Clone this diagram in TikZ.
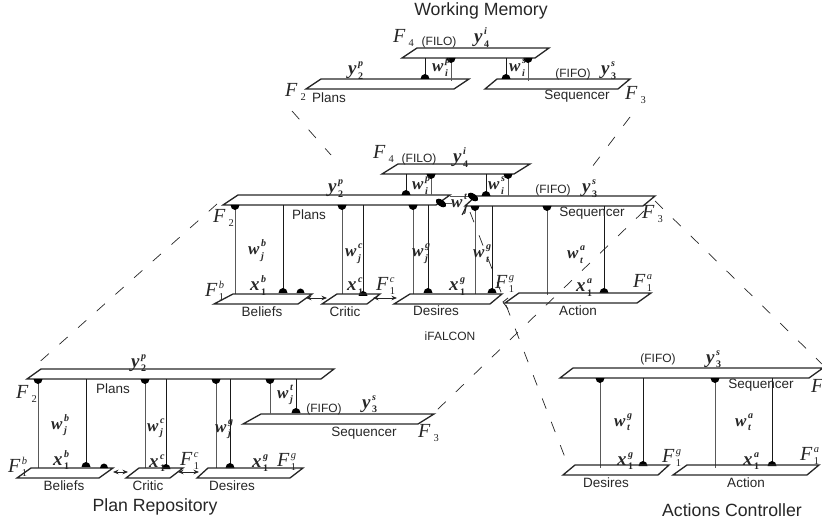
\documentclass[tikz,border=0pt]{standalone}
\usepackage{fontspec}
\setmainfont{Liberation Sans}
\newfontfamily\serifbi{Liberation Serif}
\usetikzlibrary{arrows.meta}
\newcommand{\bigF}[3]{{\fontsize{20}{20}\selectfont\serifbi\itshape #1}\hspace{1.5pt}\rlap{\raisebox{8pt}{\fontsize{10.5}{10.5}\selectfont\serifbi\itshape #2}}\raisebox{-4pt}{\fontsize{10.5}{10.5}\selectfont\serifbi #3}}
\newcommand{\bfv}[3]{{\fontsize{17}{17}\selectfont\serifbi\bfseries\itshape #1}\hspace{1.5pt}\rlap{\raisebox{8pt}{\fontsize{10}{10}\selectfont\serifbi\bfseries\itshape #2}}\raisebox{-4.5pt}{\fontsize{10}{10}\selectfont\serifbi\bfseries\itshape #3}}
\newcommand{\bfn}[3]{{\fontsize{19}{19}\selectfont\serifbi\bfseries\itshape #1}\hspace{1.5pt}\rlap{\raisebox{8pt}{\fontsize{10}{10}\selectfont\serifbi\bfseries\itshape #2}}\raisebox{-4.5pt}{\fontsize{10}{10}\selectfont\serifbi\bfseries #3}}
% plane: top-left x, top-right x, top y, bottom-left x, bottom-right x, bottom y
\newcommand{\plane}[6]{\draw[planeline] (#1,#3) -- (#2,#3) -- (#5,#6) -- (#4,#6) -- cycle;}
\newcommand{\topdome}[3]{\draw[grayline] (#1,#2) -- (#1,#3); \fill (#1-4.5,#2) arc[start angle=180,end angle=360,x radius=4.5,y radius=-5] -- cycle;}
\newcommand{\botdome}[3]{\draw[blackline] (#1,#2) -- (#1,#3); \fill (#1-4.5,#3) arc[start angle=180,end angle=0,x radius=4.5,y radius=-5] -- cycle;}
\tikzset{
  planeline/.style={line width=1.3pt,line join=miter,black!85},
  grayline/.style={line width=1pt,black!65},
  blackline/.style={line width=1pt,black!90},
  dashline/.style={line width=0.7pt,black!85,dash pattern=on 11pt off 14pt},
  txt/.style={font=\fontsize{13.5}{13.5}\selectfont,inner sep=0pt,text=black!85},
  fifo/.style={font=\fontsize{12}{12}\selectfont,inner sep=0pt,text=black!85},
  head/.style={font=\fontsize{17.7}{17.7}\selectfont,inner sep=0pt,text=black!85},
  sym/.style={inner sep=0pt,text=black!85,anchor=base west},
  duplex/.style={line width=0.8pt,black!85,{Stealth[length=5.5pt,width=4.5pt]}-{Stealth[length=5.5pt,width=4.5pt]}}
}
\begin{document}
\begin{tikzpicture}[x=1pt,y=-1pt]
\useasboundingbox (0,0) rectangle (822,521);
% ---------- dashed guides
\draw[dashline] (292,111) -- (331,155);
\draw[dashline] (630,117) -- (592,167);
\draw[dashline] (217,204) -- (35,366);
\draw[dashline] (644,211) -- (437,410);
\draw[dashline] (655,201) -- (822,364);
\draw[dashline] (470,212) -- (566,460);
% ---------- Working Memory
\node[head] (wmtitle) at (481,11) {Working Memory};
\plane{417}{549}{48}{402}{535}{58}
\plane{321}{469}{79}{306}{454}{89}
\plane{497}{630}{79}{485}{618}{89}
\botdome{425}{58}{79}
\topdome{451}{58}{81}
\botdome{506}{58}{79}
\topdome{528}{58}{81}
\node[sym] (wmf4) at (393,43) {\bigF{F}{}{\,4}};
\node[fifo] (wmfilo) at (439,42) {(FILO)};
\node[sym] (wmy4) at (474,43) {\bfn{y}{i}{4}};
\node[sym] (wmf2) at (285,97) {\bigF{F}{}{\,2}};
\node[sym] (wmy2) at (348,75) {\bfn{y}{p}{2}};
\node[txt] (wmplans) at (329,98) {Plans};
\node[sym] (wmwip) at (432,72) {\bfv{w}{p}{i}};
\node[sym] (wmwis) at (509,72) {\bfv{w}{s}{i}};
\node[fifo] (wmfifo) at (573,74) {(FIFO)};
\node[sym] (wmy3) at (601,75) {\bfn{y}{s}{3}};
\node[txt] (wmseq) at (577,96) {Sequencer};
\node[sym] (wmf3) at (625,100) {\bigF{F}{}{\,3}};
% ---------- iFALCON
\plane{398}{530}{164}{382}{514}{174}
\plane{238}{450}{195}{223}{436}{205}
\plane{476}{655}{196}{465}{643}{206}
\botdome{406}{174}{195}
\topdome{431}{174}{195}
\botdome{486}{174}{196}
\topdome{508}{174}{196}
\topdome{235}{205}{294}
\botdome{283}{205}{293}
\topdome{342}{205}{294}
\botdome{363}{205}{296}
\topdome{413}{205}{294}
\botdome{428}{205}{293}
\topdome{475}{206}{294}
\botdome{492}{206}{293}
\topdome{547}{206}{295}
\botdome{604}{206}{293}
% slanted synapses between Plans and Sequencer
\draw[grayline] (450,197) -- (470,197);
\draw[grayline] (445,204) -- (452,204);
\fill[rotate around={-35:(441,203)}] (441,203) ellipse[x radius=6,y radius=3.2];
\fill[rotate around={-35:(473,197)}] (473,197) ellipse[x radius=6,y radius=3.2];
\draw[blackline] (467,205) -- (462,215);
% lower planes
\plane{233}{312}{294}{214}{298}{304}
\fill (296.5,293) arc[start angle=180,end angle=0,x radius=4,y radius=-4.5] -- cycle;
\plane{337}{380}{294}{322}{367}{304}
\plane{410}{502}{294}{394}{490}{304}
\plane{519}{651}{293}{505}{637}{303}
\draw[line width=0.8pt,black!85] (508,298) -- (503,302) -- (508,309);
\draw[duplex] (306,298) -- (327,298);
\draw[duplex] (373,298) -- (397,298);
\node[sym] (mf4) at (373,159) {\bigF{F}{}{\,4}};
\node[fifo] (mfilo) at (419,159) {(FILO)};
\node[sym] (my4) at (453,163) {\bfn{y}{i}{4}};
\node[sym] (my2) at (328,193) {\bfn{y}{p}{2}};
\node[txt] (mplans) at (309,215) {Plans};
\node[sym] (mf2) at (213,223) {\bigF{F}{}{\,2}};
\node[sym] (mwip) at (412,190) {\bfv{w}{p}{i}};
\node[sym] (mwis) at (488,190) {\bfv{w}{s}{i}};
\node[sym] (mwjt) at (451,208) {\bfv{w}{t}{j}};
\node[fifo] (mfifo) at (553,190) {(FIFO)};
\node[sym] (my3) at (582,193) {\bfn{y}{s}{3}};
\node[txt] (mseq) at (592,213) {Sequencer};
\node[sym] (mf3) at (642,219) {\bigF{F}{}{\,3}};
\node[sym] (mwjb) at (248,255) {\bfv{w}{b}{j}};
\node[sym] (mwjc) at (345,257) {\bfv{w}{c}{j}};
\node[sym] (mwjg) at (412,257) {\bfv{w}{g}{j}};
\node[sym] (mwtg) at (473,258) {\bfv{w}{g}{t}};
\node[sym] (mwta) at (567,259) {\bfv{w}{a}{t}};
\node[sym] (mx1b) at (250,291) {\bfn{x}{b}{1}};
\node[sym] (mx1c) at (347,291) {\bfn{x}{c}{1}};
\node[sym] (mx1g) at (449,291) {\bfn{x}{g}{1}};
\node[sym] (mx1a) at (576,292) {\bfn{x}{a}{1}};
\node[sym] (mf1b) at (205,297) {\bigF{F}{b}{1}};
\node[sym] (mf1c) at (376,291) {\bigF{F}{c}{1}};
\node[sym] (mf1g) at (495,289) {\bigF{F}{g}{1}};
\node[sym] (mf1a) at (633,288) {\bigF{F}{a}{1}};
\node[txt] (mbel) at (262,312) {Beliefs};
\node[txt] (mcri) at (345,312) {Critic};
\node[txt] (mdes) at (436,311) {Desires};
\node[txt] (mact) at (578,311) {Action};
\node[fifo] (mifalcon) at (450,336) {iFALCON};
% ---------- Plan Repository
\plane{41}{334}{369}{27}{321}{379}
\plane{261}{434}{414}{243}{418}{424}
\topdome{38}{379}{468}
\botdome{86}{379}{467}
\topdome{145}{379}{468}
\botdome{166}{379}{469}
\topdome{216}{379}{468}
\botdome{230}{379}{468}
\topdome{270}{379}{414}
\botdome{296}{379}{413}
\plane{31}{113}{468}{17}{99}{478}
\fill (100,468) arc[start angle=180,end angle=0,x radius=4,y radius=-4.5] -- cycle;
\plane{139}{183}{468}{126}{170}{478}
\plane{208}{303}{468}{197}{290}{478}
\draw[duplex] (113,472) -- (128,472);
\draw[duplex] (178,472) -- (199,472);
\node[sym] (py2) at (131,367) {\bfn{y}{p}{2}};
\node[txt] (pplans) at (113,389) {Plans};
\node[sym] (pf2) at (16,398) {\bigF{F}{}{\,2}};
\node[sym] (pwjb) at (51,429) {\bfv{w}{b}{j}};
\node[sym] (pwjc) at (147,431) {\bfv{w}{c}{j}};
\node[sym] (pwjg) at (215,432) {\bfv{w}{g}{j}};
\node[sym] (pwjt) at (277,398) {\bfv{w}{t}{j}};
\node[fifo] (pfifo) at (324,409) {(FIFO)};
\node[sym] (py3) at (362,408) {\bfn{y}{s}{3}};
\node[txt] (pseq) at (364,433) {Sequencer};
\node[sym] (pf3) at (418,437) {\bigF{F}{}{\,3}};
\node[sym] (px1b) at (53,465) {\bfn{x}{b}{1}};
\node[sym] (px1c) at (149,467) {\bfn{x}{c}{1}};
\node[sym] (px1g) at (252,467) {\bfn{x}{g}{1}};
\node[sym] (pf1b) at (8,472) {\bigF{F}{b}{1}};
\node[sym] (pf1c) at (180,465) {\bigF{F}{c}{1}};
\node[sym] (pf1g) at (277,466) {\bigF{F}{g}{1}};
\node[txt] (pbel) at (64,486) {Beliefs};
\node[txt] (pcri) at (148,486) {Critic};
\node[txt] (pdes) at (232,486) {Desires};
\node[head] (ptitle) at (155,507) {Plan Repository};
% ---------- Actions Controller
\plane{573}{823}{368}{560}{809}{378}
\topdome{600}{378}{468}
\botdome{643}{378}{466}
\topdome{715}{378}{468}
\botdome{772}{378}{466}
\plane{575}{669}{465}{563}{658}{475}
\plane{687}{819}{465}{673}{807}{475}
\node[fifo] (afifo) at (658,359) {(FIFO)};
\node[sym] (ay3) at (706,363) {\bfn{y}{s}{3}};
\node[txt] (aseq) at (761,385) {Sequencer};
\node[sym] (af3) at (811,392) {\bigF{F}{}{}};
\node[sym] (awtg) at (614,426) {\bfv{w}{g}{t}};
\node[sym] (awta) at (735,426) {\bfv{w}{a}{t}};
\node[sym] (ax1g) at (617,465) {\bfn{x}{g}{1}};
\node[sym] (ax1a) at (743,465) {\bfn{x}{a}{1}};
\node[sym] (af1g) at (662,462) {\bigF{F}{g}{1}};
\node[sym] (af1a) at (800,460) {\bigF{F}{a}{1}};
\node[txt] (ades) at (606,483) {Desires};
\node[txt] (aact) at (746,483) {Action};
\node[head] (atitle) at (732,510) {Actions Controller};
\end{tikzpicture}
\end{document}
